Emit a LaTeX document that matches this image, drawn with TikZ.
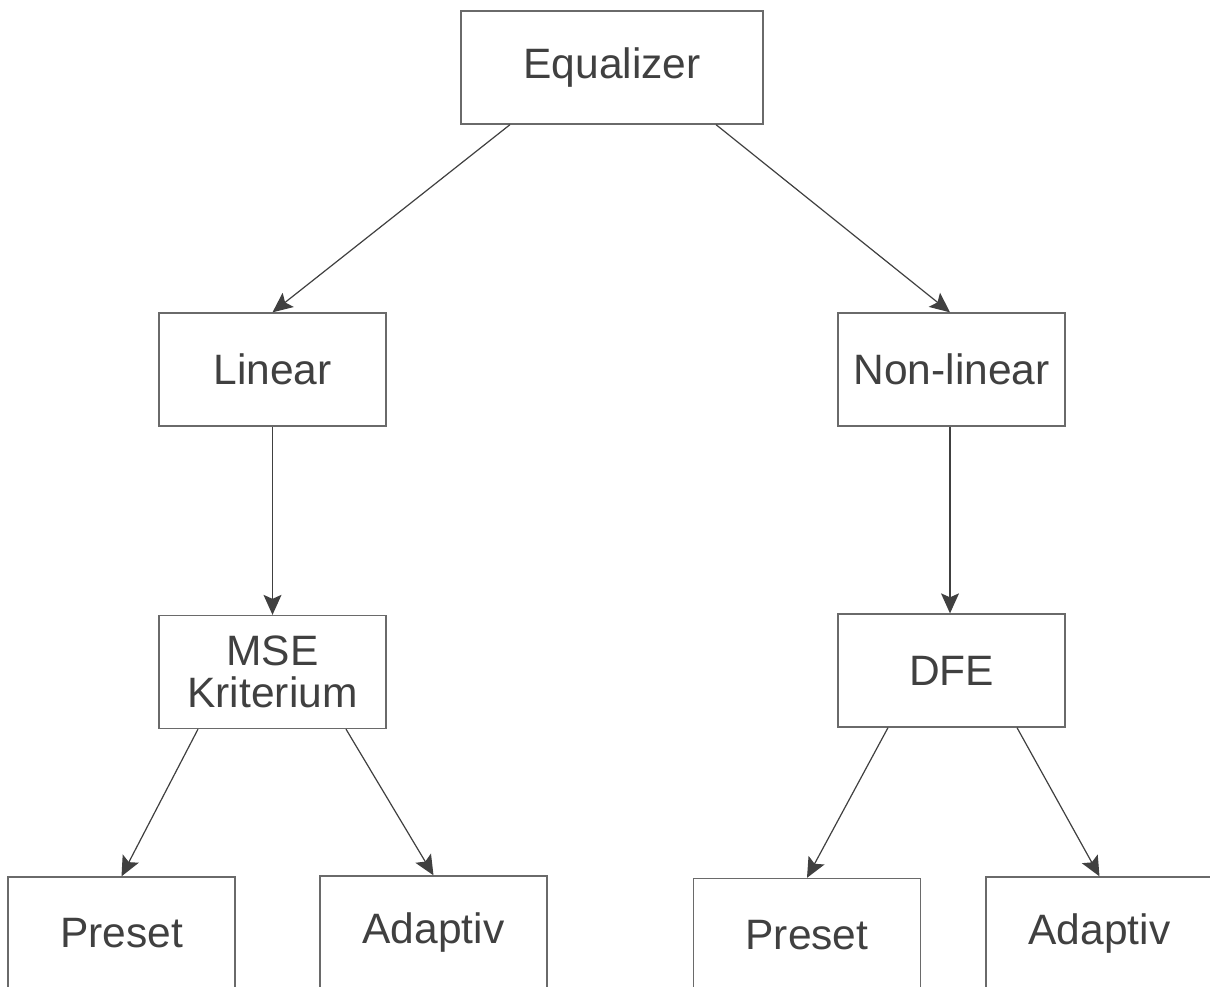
\documentclass[tikz,border=0pt]{standalone}
\usepackage{fontspec}
\setmainfont{Liberation Sans}
\usetikzlibrary{arrows.meta}
\definecolor{boxline}{HTML}{6A6A6A}
\definecolor{inkline}{HTML}{404040}
\definecolor{inktext}{HTML}{404040}
\tikzset{
  box/.style={draw=boxline, line width=1.3pt, fill=white, inner sep=0pt,
    minimum width=227pt, minimum height=113pt, align=center,
    text=inktext, font=\fontsize{42.5}{42}\selectfont},
  link/.style={draw=inkline, line width=1.2pt,
    -{Stealth[length=20pt,width=18pt,inset=4pt]}}
}
\begin{document}
\begin{tikzpicture}[x=1pt,y=-1pt]
  \clip (0,0) rectangle (1210,987);
  \fill[white] (0,0) rectangle (1210,987);

  % tree of boxes
  \node[box, minimum width=302pt] (eq) at (612,67.5) {Equalizer};
  \node[box] (lin) at (272.5,369.5) {Linear};
  \node[box] (nlin) at (951.5,369.5) {Non-linear};
  \node[box] (mse) at (272.5,672) {MSE\\Kriterium};
  \node[box] (dfe) at (951.5,670.5) {DFE};
  \node[box] (pre1) at (121.5,933.5) {Preset};
  \node[box] (ada1) at (433.5,932.5) {Adaptiv};
  \node[box] (pre2) at (807,935) {Preset};
  \node[box] (ada2) at (1099.5,933.5) {Adaptiv};

  % connectors
  \draw[link] ([xshift=-102pt]eq.south) -- (lin.north);
  \draw[link] ([xshift=104pt]eq.south) -- ([xshift=-1.5pt]nlin.north);
  \draw[link] (lin.south) -- (mse.north);
  \draw[link] ([xshift=-1.5pt]nlin.south) -- ([xshift=-1.5pt]dfe.north);
  \draw[link] ([xshift=-74.5pt]mse.south) -- (pre1.north);
  \draw[link] ([xshift=73.5pt]mse.south) -- (ada1.north);
  \draw[link] ([xshift=-63.5pt]dfe.south) -- (pre2.north);
  \draw[link] ([xshift=65.5pt]dfe.south) -- (ada2.north);
\end{tikzpicture}
\end{document}
